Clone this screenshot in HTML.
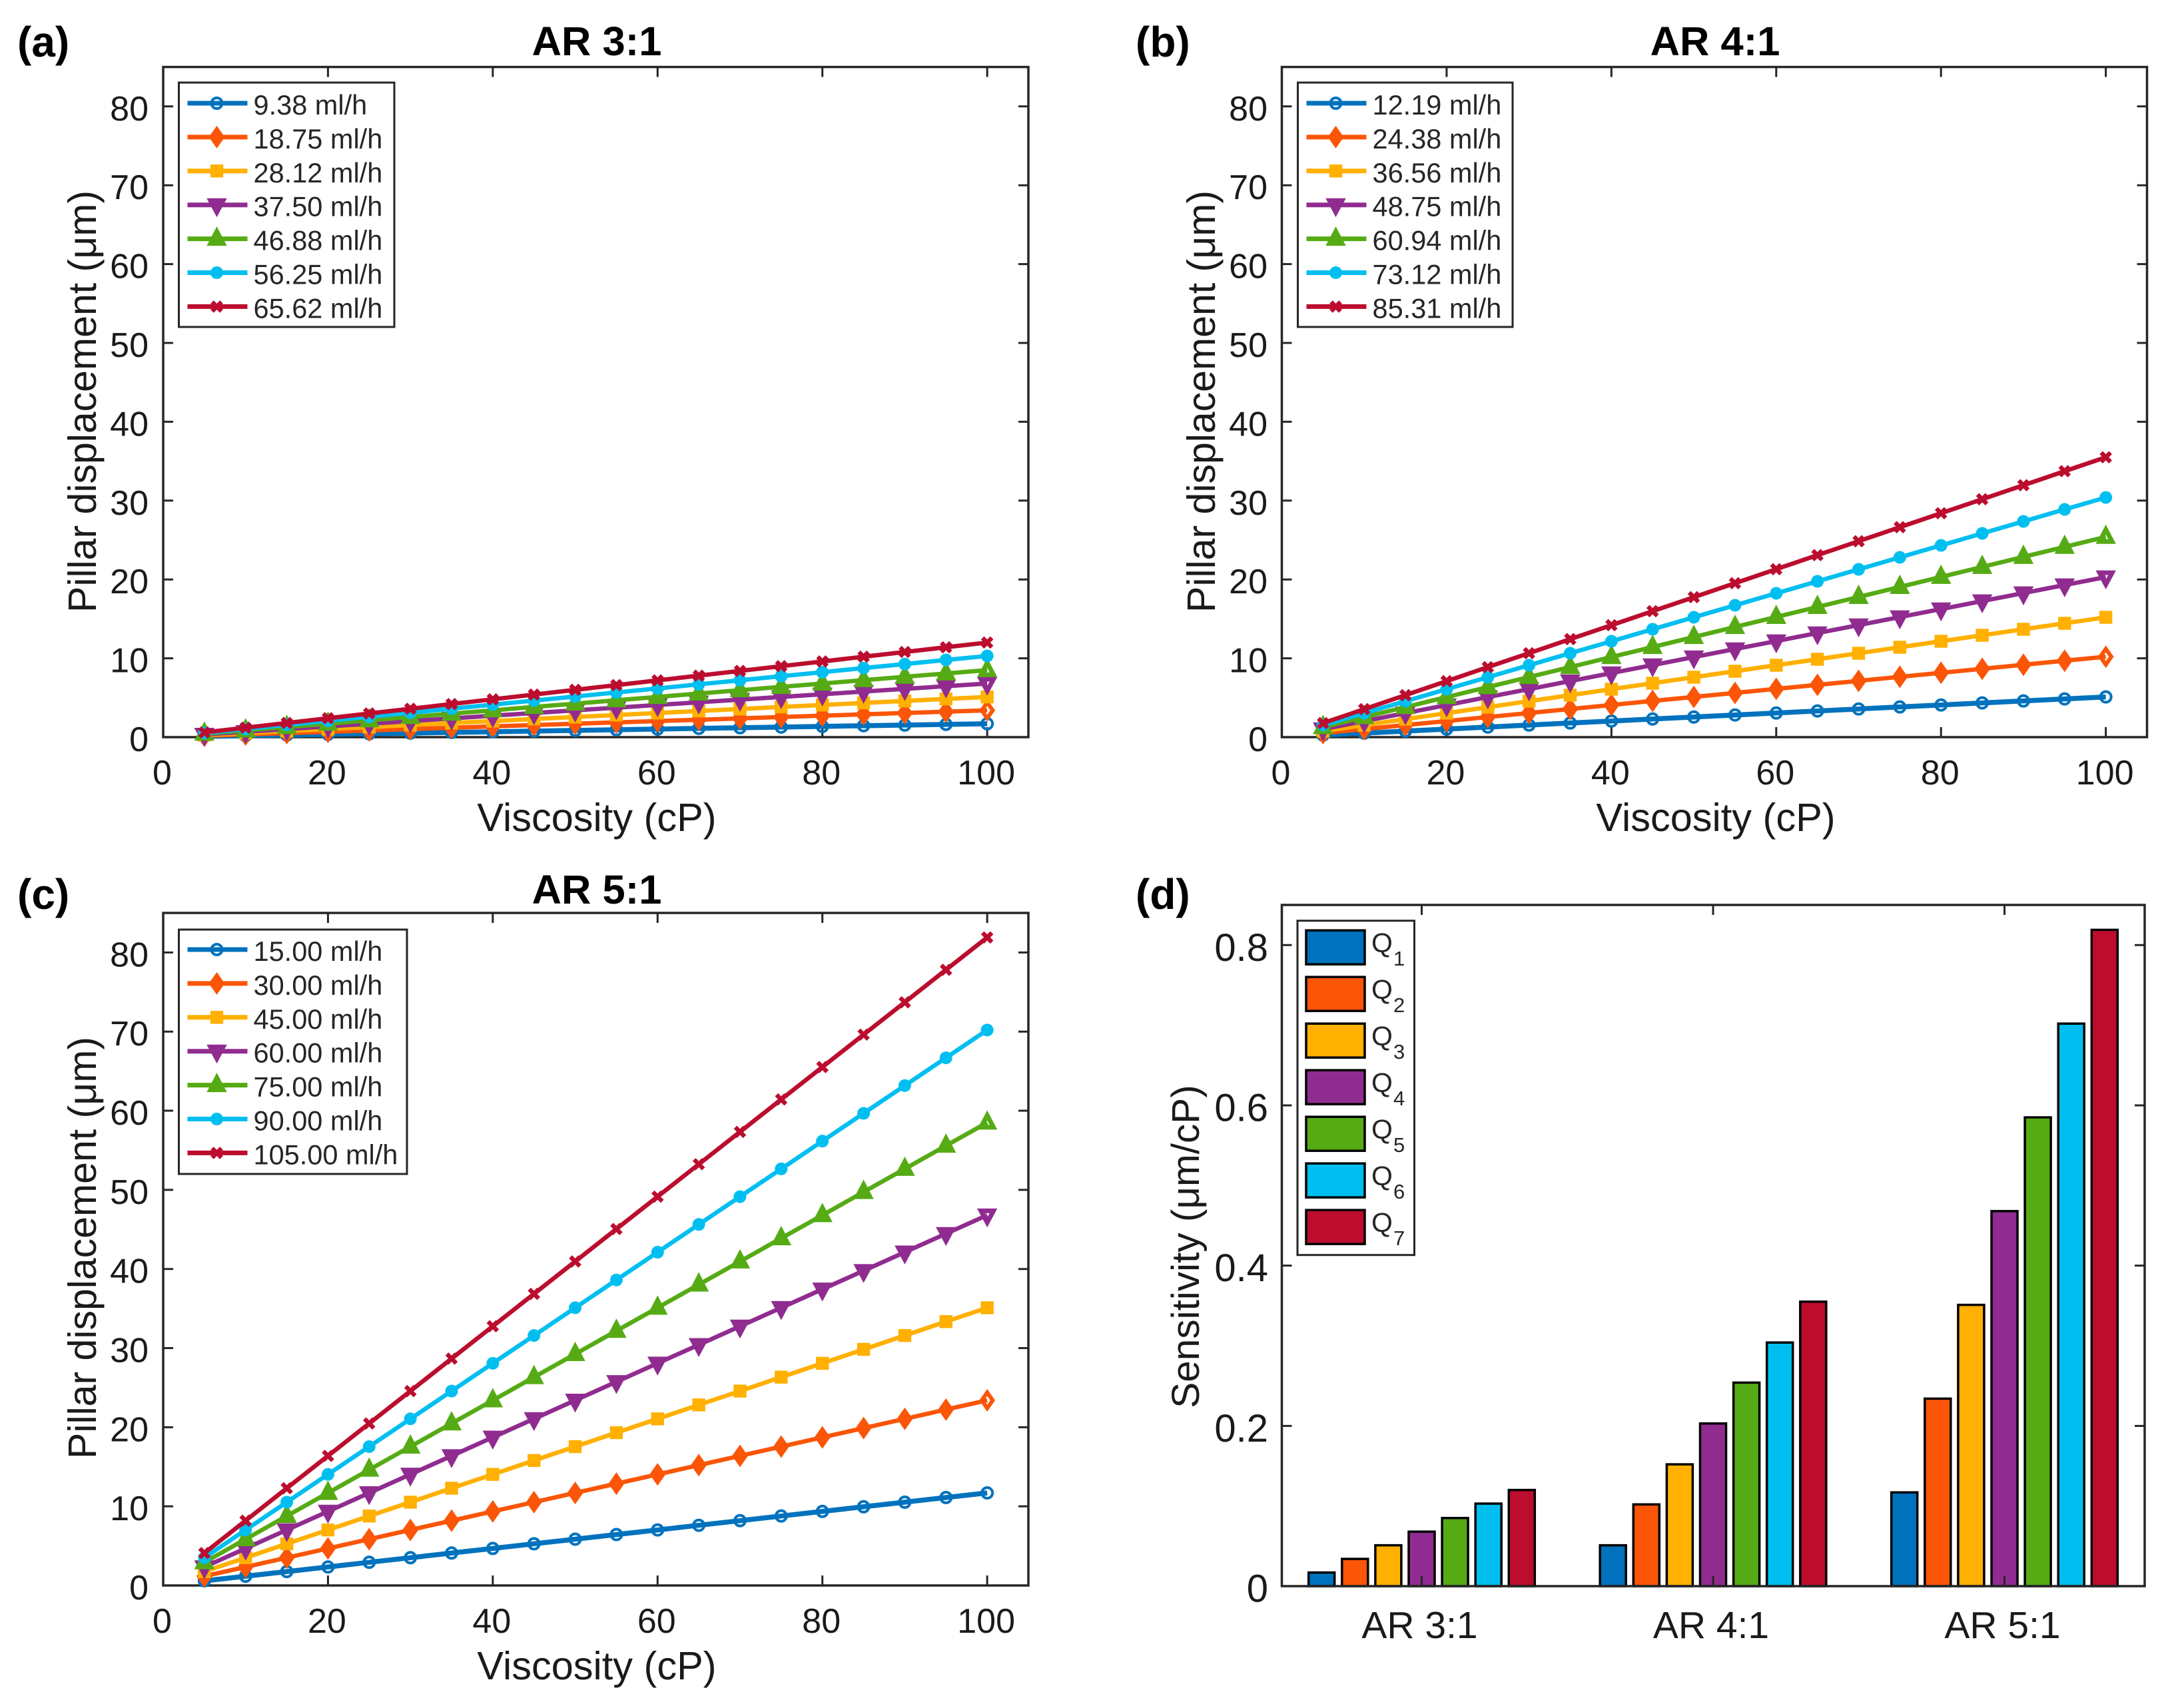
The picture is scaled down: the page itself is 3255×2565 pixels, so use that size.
<!DOCTYPE html>
<html lang="en">
<head>
<meta charset="utf-8">
<title>Pillar displacement and sensitivity versus viscosity</title>
<style>
html,body{margin:0;padding:0;background:#fff;}
svg{display:block;}
text{font-family:"Liberation Sans",Arial,sans-serif;fill:#1a1a1a;}
.t-bold{font-weight:700;fill:#000;}
</style>
</head>
<body>
<svg id="figure" xmlns="http://www.w3.org/2000/svg" width="3255" height="2565" viewBox="0 0 3255 2565">
  <rect x="0" y="0" width="3255" height="2565" fill="#fff"/>

  <text class="t-bold" x="26" y="85" font-size="64">(a)</text>
  <text class="t-bold" x="1705" y="85" font-size="64">(b)</text>
  <text class="t-bold" x="26" y="1365" font-size="64">(c)</text>
  <text class="t-bold" x="1705" y="1365" font-size="64">(d)</text>

  <text class="t-bold" x="896" y="83" font-size="61.5" text-anchor="middle">AR 3:1</text>
  <text class="t-bold" x="2575" y="83" font-size="61.5" text-anchor="middle">AR 4:1</text>
  <text class="t-bold" x="896" y="1357" font-size="61.5" text-anchor="middle">AR 5:1</text>

  <text x="896" y="1248" font-size="59.5" text-anchor="middle">Viscosity (cP)</text>
  <text x="2576" y="1248" font-size="59.5" text-anchor="middle">Viscosity (cP)</text>
  <text x="896" y="2522" font-size="59.5" text-anchor="middle">Viscosity (cP)</text>

  <text font-size="59" text-anchor="middle" transform="translate(144,603) rotate(-90)">Pillar displacement (μm)</text>
  <text font-size="59" text-anchor="middle" transform="translate(1824,603) rotate(-90)">Pillar displacement (μm)</text>
  <text font-size="59" text-anchor="middle" transform="translate(144,1874) rotate(-90)">Pillar displacement (μm)</text>
  <text font-size="58.5" text-anchor="middle" transform="translate(1800,1872) rotate(-90)">Sensitivity (μm/cP)</text>
</svg>

<script>
// ---------- shared axis data ----------
const viscosity = [5,10,15,20,25,30,35,40,45,50,55,60,65,70,75,80,85,90,95,100];
const xTickValues = [0,20,40,60,80,100];
const yTickValues = [0,10,20,30,40,50,60,70,80];

// ---------- panel (a) AR 3:1 ----------
const ar3Flow = ['9.38 ml/h','18.75 ml/h','28.12 ml/h','37.50 ml/h','46.88 ml/h','56.25 ml/h','65.62 ml/h'];
const ar3Q1 = [0.09,0.17,0.26,0.34,0.43,0.51,0.60,0.68,0.77,0.85,0.94,1.02,1.11,1.19,1.28,1.36,1.45,1.53,1.62,1.70];
const ar3Q2 = [0.17,0.34,0.51,0.68,0.85,1.02,1.19,1.36,1.53,1.70,1.87,2.04,2.21,2.38,2.55,2.72,2.89,3.06,3.23,3.40];
const ar3Q3 = [0.26,0.51,0.77,1.02,1.28,1.53,1.79,2.04,2.30,2.55,2.81,3.06,3.32,3.57,3.83,4.08,4.34,4.59,4.85,5.10];
const ar3Q4 = [0.34,0.68,1.02,1.36,1.70,2.04,2.38,2.72,3.06,3.40,3.74,4.08,4.42,4.76,5.10,5.44,5.78,6.12,6.46,6.80];
const ar3Q5 = [0.43,0.85,1.28,1.70,2.13,2.55,2.98,3.40,3.83,4.25,4.68,5.10,5.53,5.95,6.38,6.80,7.23,7.65,8.08,8.50];
const ar3Q6 = [0.52,1.03,1.55,2.06,2.58,3.09,3.61,4.12,4.64,5.15,5.67,6.18,6.70,7.21,7.73,8.24,8.76,9.27,9.79,10.30];
const ar3Q7 = [0.60,1.20,1.80,2.40,3.00,3.60,4.20,4.80,5.40,6.00,6.60,7.20,7.80,8.40,9.00,9.60,10.20,10.80,11.40,12.00];

// ---------- panel (b) AR 4:1 ----------
const ar4Flow = ['12.19 ml/h','24.38 ml/h','36.56 ml/h','48.75 ml/h','60.94 ml/h','73.12 ml/h','85.31 ml/h'];
const ar4Q1 = [0.26,0.51,0.77,1.02,1.28,1.53,1.79,2.04,2.30,2.55,2.81,3.06,3.32,3.57,3.83,4.08,4.34,4.59,4.85,5.10];
const ar4Q2 = [0.51,1.02,1.53,2.04,2.55,3.06,3.57,4.08,4.59,5.10,5.61,6.12,6.63,7.14,7.65,8.16,8.67,9.18,9.69,10.20];
const ar4Q3 = [0.76,1.52,2.28,3.04,3.80,4.56,5.32,6.08,6.84,7.60,8.36,9.12,9.88,10.64,11.40,12.16,12.92,13.68,14.44,15.20];
const ar4Q4 = [1.02,2.03,3.05,4.06,5.08,6.09,7.11,8.12,9.14,10.15,11.17,12.18,13.20,14.21,15.23,16.24,17.26,18.27,19.29,20.30];
const ar4Q5 = [1.27,2.54,3.81,5.08,6.35,7.62,8.89,10.16,11.43,12.70,13.97,15.24,16.51,17.78,19.05,20.32,21.59,22.86,24.13,25.40];
const ar4Q6 = [1.52,3.04,4.56,6.08,7.60,9.12,10.64,12.16,13.68,15.20,16.72,18.24,19.76,21.28,22.80,24.32,25.84,27.36,28.88,30.40];
const ar4Q7 = [1.78,3.55,5.33,7.10,8.88,10.65,12.43,14.20,15.98,17.75,19.53,21.30,23.08,24.85,26.63,28.40,30.18,31.95,33.73,35.50];

// ---------- panel (c) AR 5:1 ----------
const ar5Flow = ['15.00 ml/h','30.00 ml/h','45.00 ml/h','60.00 ml/h','75.00 ml/h','90.00 ml/h','105.00 ml/h'];
const ar5Q1 = [0.59,1.17,1.76,2.34,2.93,3.51,4.10,4.68,5.27,5.85,6.44,7.02,7.61,8.19,8.78,9.36,9.95,10.53,11.12,11.70];
const ar5Q2 = [1.17,2.34,3.51,4.68,5.85,7.02,8.19,9.36,10.53,11.70,12.87,14.04,15.21,16.38,17.55,18.72,19.89,21.06,22.23,23.40];
const ar5Q3 = [1.76,3.51,5.27,7.02,8.78,10.53,12.29,14.04,15.80,17.55,19.31,21.06,22.82,24.57,26.33,28.08,29.84,31.59,33.35,35.10];
const ar5Q4 = [2.34,4.68,7.02,9.36,11.70,14.04,16.38,18.72,21.06,23.40,25.74,28.08,30.42,32.76,35.10,37.44,39.78,42.12,44.46,46.80];
const ar5Q5 = [2.93,5.85,8.78,11.70,14.63,17.55,20.48,23.40,26.33,29.25,32.18,35.10,38.03,40.95,43.88,46.80,49.73,52.65,55.58,58.50];
const ar5Q6 = [3.51,7.02,10.53,14.04,17.55,21.06,24.57,28.08,31.59,35.10,38.61,42.12,45.63,49.14,52.65,56.16,59.67,63.18,66.69,70.20];
const ar5Q7 = [4.10,8.19,12.29,16.38,20.48,24.57,28.67,32.76,36.86,40.95,45.05,49.14,53.24,57.33,61.43,65.52,69.62,73.71,77.81,81.90];

// ---------- panel (d) sensitivity ----------
const barCategories = ['AR 3:1','AR 4:1','AR 5:1'];
const sensitivityTickValues = [0,0.2,0.4,0.6,0.8];
const sensitivityTickLabels = ['0','0.2','0.4','0.6','0.8'];
const legendSubscripts = ['1','2','3','4','5','6','7'];
const sensQ1 = [0.017,0.051,0.117];
const sensQ2 = [0.034,0.102,0.234];
const sensQ3 = [0.051,0.152,0.351];
const sensQ4 = [0.068,0.203,0.468];
const sensQ5 = [0.085,0.254,0.585];
const sensQ6 = [0.103,0.304,0.702];
const sensQ7 = [0.120,0.355,0.819];

// ---------- styling and layout ----------
const colors = ['#0072BD','#FB5508','#FFB000','#902C8F','#56AB14','#00BFF0','#BC0D2E'];
const svg = document.getElementById('figure');
const NS = 'http://www.w3.org/2000/svg';
const AXIS = '#262626';

function make(tag, attrs, parent, txt) {
  const node = document.createElementNS(NS, tag);
  for (const k in attrs) node.setAttribute(k, attrs[k]);
  if (txt !== undefined) node.textContent = txt;
  parent.appendChild(node);
  return node;
}

const linePanels = [
  {id:'a', left:245, right:1544, top:100.6, bottom:1107, labelRight:223, legendLeft:268.5, legendWidth:323.5, legendTop:124, legendBottom:491, firstRow:155, series:[ar3Q1,ar3Q2,ar3Q3,ar3Q4,ar3Q5,ar3Q6,ar3Q7], flow:ar3Flow},
  {id:'b', left:1924.5, right:3223.5, top:100.6, bottom:1107, labelRight:1903, legendLeft:1948.5, legendWidth:322.5, legendTop:124, legendBottom:491, firstRow:155, series:[ar4Q1,ar4Q2,ar4Q3,ar4Q4,ar4Q5,ar4Q6,ar4Q7], flow:ar4Flow},
  {id:'c', left:245, right:1544, top:1371, bottom:2381, labelRight:223, legendLeft:268.5, legendWidth:342.5, legendTop:1396, legendBottom:1763, firstRow:1426, series:[ar5Q1,ar5Q2,ar5Q3,ar5Q4,ar5Q5,ar5Q6,ar5Q7], flow:ar5Flow}
];
const X_MAX = 105;
const Y_MAX = 85;
const ROW_GAP = 50.9;

function xAxis(p, v) { return p.left + v * (p.right - p.left) / X_MAX; }
function yAxis(p, v) { return p.bottom - v * (p.bottom - p.top) / Y_MAX; }

// draws marker type for series index s centred at (x,y); isOpen leaves the interior unfilled
function drawMarker(s, x, y, parent, isOpen) {
  const c = colors[s];
  const inner = isOpen ? 'none' : c;
  if (s === 0) return make('circle', {cx:x, cy:y, r:8, fill:'none', stroke:c, 'stroke-width':4}, parent);
  if (s === 1) return make('path', {d:`M${x} ${y-11.8}L${x+8.3} ${y}L${x} ${y+11.8}L${x-8.3} ${y}Z`, fill:inner, stroke:c, 'stroke-width':6}, parent);
  if (s === 2) return make('rect', {x:x-9.7, y:y-9.7, width:19.4, height:19.4, fill:c}, parent);
  if (s === 3) return make('path', {d:`M${x-9.4} ${y-6.5}L${x+9.4} ${y-6.5}L${x} ${y+11}Z`, fill:inner, stroke:c, 'stroke-width':7}, parent);
  if (s === 4) return make('path', {d:`M${x-9.4} ${y+7}L${x+9.4} ${y+7}L${x} ${y-11}Z`, fill:inner, stroke:c, 'stroke-width':7}, parent);
  if (s === 5) return make('circle', {cx:x, cy:y, r:9.5, fill:c}, parent);
  return make('path', {d:`M${x-7} ${y-7}L${x+7} ${y+7}M${x-7} ${y+7}L${x+7} ${y-7}`, fill:'none', stroke:c, 'stroke-width':6.5}, parent);
}

function drawFrame(p, id, parent) {
  const frame = make('rect', {x:p.left, y:p.top, width:p.right-p.left, height:p.bottom-p.top, fill:'none', stroke:AXIS, 'stroke-width':3.5}, parent);
  
  
}

linePanels.forEach(function (p) {
  const g = make('g', {}, svg);
  
  

  drawFrame(p, p.id, g);

  xTickValues.forEach(function (v) {
    const x = xAxis(p, v);
    const tickPath = make('path', {d:`M${x} ${p.bottom}v-15M${x} ${p.top}v15`, stroke:AXIS, 'stroke-width':3, fill:'none'}, g);
    
    
    const lab = make('text', {x:x-1.5, y:p.bottom+71, 'font-size':52, 'text-anchor':'middle'}, g, String(v));
    
    
  });

  yTickValues.forEach(function (v) {
    const y = yAxis(p, v);
    const tickPath = make('path', {d:`M${p.left} ${y}h15M${p.right} ${y}h-15`, stroke:AXIS, 'stroke-width':3, fill:'none'}, g);
    
    
    const lab = make('text', {x:p.labelRight, y:y+21, 'font-size':52, 'text-anchor':'end'}, g, String(v));
    
    
  });

  p.series.forEach(function (vals, s) {
    const sg = make('g', {}, g);
    
    
    const pts = vals.map(function (v, i) { return xAxis(p, viscosity[i]) + ',' + yAxis(p, v); }).join(' ');
    const line = make('polyline', {points:pts, fill:'none', stroke:colors[s], 'stroke-width': s === 0 ? 7.5 : 6.5, 'stroke-linejoin':'round'}, sg);
    
    
    vals.forEach(function (v, i) {
      const m = drawMarker(s, xAxis(p, viscosity[i]), yAxis(p, v), sg, i === vals.length - 1);
      
      
    });
  });

  const lg = make('g', {}, g);
  
  
  const box = make('rect', {x:p.legendLeft, y:p.legendTop, width:p.legendWidth, height:p.legendBottom-p.legendTop, fill:'#fff', stroke:AXIS, 'stroke-width':3}, lg);
  
  
  p.flow.forEach(function (label, s) {
    const ry = p.firstRow + s * ROW_GAP;
    const eg = make('g', {}, lg);
    
    
    const sample = make('line', {x1:p.legendLeft+13, x2:p.legendLeft+103, y1:ry, y2:ry, stroke:colors[s], 'stroke-width':7}, eg);
    
    
    const mk = drawMarker(s, p.legendLeft+57, ry, eg, false);
    
    
    const t = make('text', {x:p.legendLeft+112, y:ry+17, 'font-size':41.5, style:'fill:#262626'}, eg, label);
    
    
  });
});

// ---------- bar chart ----------
const barPanel = {left:1924.5, right:3220, top:1359, bottom:2382, firstCategory:2134.5, categoryGap:437.5, barGap:50.1, barWidth:39, perUnit:1203.4};
const barSeries = [sensQ1,sensQ2,sensQ3,sensQ4,sensQ5,sensQ6,sensQ7];
function catAxis(c, s) { return barPanel.firstCategory + c * barPanel.categoryGap + (s - 3) * barPanel.barGap; }
function sensAxis(v) { return barPanel.bottom - v * barPanel.perUnit; }

const dg = make('g', {}, svg);



barSeries.forEach(function (vals, s) {
  vals.forEach(function (v, c) {
    const y = sensAxis(v);
    const bar = make('rect', {x:catAxis(c, s)-barPanel.barWidth/2, y:y, width:barPanel.barWidth, height:barPanel.bottom-y, fill:colors[s], stroke:'#000', 'stroke-width':3.5}, dg);
    
    
  });
});

drawFrame(barPanel, 'd', dg);

barCategories.forEach(function (name, c) {
  const x = catAxis(c, 3);
  const tickPath = make('path', {d:`M${x} ${barPanel.bottom}v-15M${x} ${barPanel.top}v15`, stroke:AXIS, 'stroke-width':3, fill:'none'}, dg);
  
  
  const lab = make('text', {x:x-3, y:2460, 'font-size':57, 'text-anchor':'middle'}, dg, name);
  
  
});

sensitivityTickValues.forEach(function (v, i) {
  const y = sensAxis(v);
  const tickPath = make('path', {d:`M${barPanel.left} ${y}h15M${barPanel.right} ${y}h-15`, stroke:AXIS, 'stroke-width':3, fill:'none'}, dg);
  
  
  const lab = make('text', {x:1904, y:y+23.5, 'font-size':58, 'text-anchor':'end'}, dg, sensitivityTickLabels[i]);
  
  
});

const dl = make('g', {}, dg);


const dBox = make('rect', {x:1948, y:1382.7, width:175.5, height:502, fill:'#fff', stroke:AXIS, 'stroke-width':3}, dl);


legendSubscripts.forEach(function (sub, s) {
  const top = 1397.2 + s * 70;
  const eg = make('g', {}, dl);
  
  
  const swatch = make('rect', {x:1961, y:top, width:88, height:51, fill:colors[s], stroke:'#000', 'stroke-width':3.5}, eg);
  
  
  const q = make('text', {x:2059, y:top+33, 'font-size':41, style:'fill:#262626'}, eg, 'Q');
  
  
  const qs = make('text', {x:2092, y:top+53, 'font-size':31, style:'fill:#262626'}, eg, sub);
  
  
});
</script>
</body>
</html>
